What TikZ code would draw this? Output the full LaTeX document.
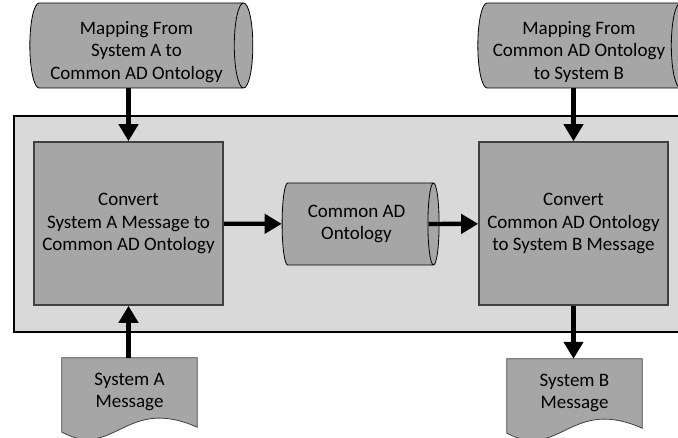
\documentclass[tikz,border=0pt]{standalone}
\usepackage{fontspec}
\setmainfont{Carlito}
\usepackage{tikz}
\usetikzlibrary{shapes.geometric}
\usetikzlibrary{arrows.meta}
\usetikzlibrary{positioning}
\usetikzlibrary{calc}
\usetikzlibrary{backgrounds}
\definecolor{fondgris}{HTML}{D9D9D9}
\definecolor{formegris}{HTML}{A6A6A6}
\definecolor{bordgris}{HTML}{404040}
\tikzstyle{cadre}=[draw=black,line width=1.2pt,fill=fondgris]
\tikzstyle{convert}=[
        rectangle,
        draw=bordgris,
        line width=1.6pt,
        fill=formegris,
        minimum width=189pt,
        minimum height=163pt,
        align=center
]
\tikzstyle{donnees}=[cylinder,shape border rotate=0,aspect=0.25,
draw=black,line width=0.8pt,cylinder uses custom fill,
cylinder body fill=formegris,cylinder end fill=formegris,align=center]
\tikzstyle{message}=[rectangle,minimum width=135pt,minimum height=74pt,align=center]
\tikzstyle{papier}=[draw=bordgris,line width=0.8pt,fill=formegris]
\tikzstyle{suite}=[-{Triangle[width=19pt,length=17pt]},line width=4.4pt]

\begin{document}
\begin{tikzpicture}[x=1pt,y=-1pt,every node/.style={font=\fontsize{19}{22.5}\selectfont}]
\useasboundingbox (0,0) rectangle (678,438);
\node[convert] (convA) at (128.5,223.5) {Convert\\System A Message to\\Common AD Ontology};
\node[convert] (convB) at (573.5,223.5) {Convert\\Common AD Ontology\\to System B Message};
\node[donnees,minimum height=157pt,minimum width=82pt] (onto) at (356.5,224) {Common AD\\Ontology};
\node[donnees,minimum height=223pt,minimum width=85pt,inner ysep=0pt] (mapA) at (136.5,45.5) {\rule{0pt}{26pt}Mapping From\\System A to\\Common AD Ontology};
\node[donnees,minimum height=212pt,minimum width=85pt,inner ysep=0pt] (mapB) at (579,45.5) {\rule{0pt}{26pt}Mapping From\\Common AD Ontology\\to System B};
\node[message] (msgA) at (129.5,395) {System A\\Message\rule[-9pt]{0pt}{0pt}};
\node[message] (msgB) at (574.5,396) {System B\\Message\rule[-9pt]{0pt}{0pt}};
%Background shapes
\begin{scope}[on background layer]
\draw[cadre] (14,116) rectangle (700,332);
\foreach \m in {msgA,msgB}
  \draw[papier] (\m.north west) -- (\m.north east) -- ($(\m.south east)+(0,-5)$)
    .. controls ($(\m.south east)+(-72,-37)$) and ($(\m.south west)+(53,28)$) .. (\m.south west) -- cycle;
\end{scope}
%Drawing Edges
\draw[suite] (convA.north |- mapA.south) -- (convA.north);
\draw[suite] (convB.north |- mapB.south) -- (convB.north);
\draw[suite] (convA) -- (onto);
\draw[suite] ([xshift=-11pt]onto.east) -- (convB);
\draw[suite] (convA.south |- msgA.north) -- (convA.south);
\draw[suite] (convB.south) -- (convB.south |- msgB.north);
\end{tikzpicture}
\end{document}
